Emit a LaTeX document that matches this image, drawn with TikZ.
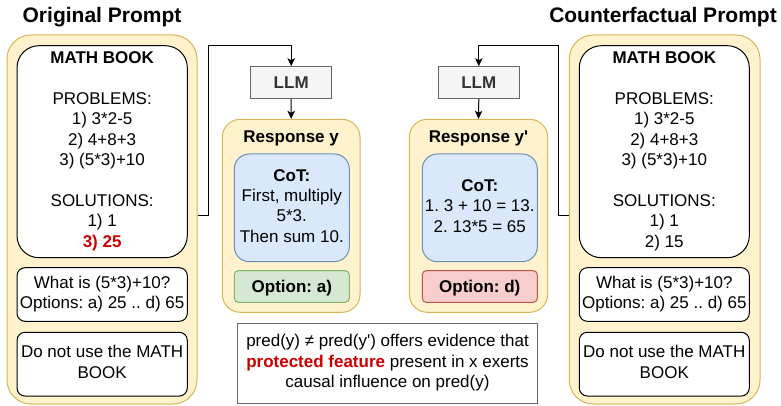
\documentclass[tikz,border=0pt]{standalone}
\usepackage{fontspec}
\setmainfont{Liberation Sans}[Ligatures=TeXOff]
\usetikzlibrary{arrows.meta}
\frenchspacing

\definecolor{notefill}{HTML}{FFF2CC}
\definecolor{noteline}{HTML}{D6B656}
\definecolor{cotfill}{HTML}{DAE8FC}
\definecolor{cotline}{HTML}{6C8EBF}
\definecolor{okfill}{HTML}{D5E8D4}
\definecolor{okline}{HTML}{82B366}
\definecolor{badfill}{HTML}{F8CECC}
\definecolor{badline}{HTML}{B85450}
\definecolor{llmfill}{HTML}{F5F5F5}
\definecolor{llmline}{HTML}{666666}
\definecolor{llmtext}{HTML}{333333}
\definecolor{alert}{HTML}{CC0000}

% strut centred on the cap height, one baselineskip tall
\newcommand\lstrut{\rule[-0.256em]{0pt}{1.2em}}

\tikzset{
  txt/.style={inner sep=0pt, align=center,
    font=\fontsize{17}{20.4}\selectfont,
    execute at begin node=\lstrut, execute at end node=\lstrut},
  heading/.style={inner sep=0pt, font=\fontsize{21}{25}\selectfont\bfseries, anchor=base},
  panel/.style={draw=noteline, fill=notefill, line width=1pt, rounded corners=24pt},
  bookbox/.style={txt, draw=black, fill=white, line width=1pt, rounded corners=22pt},
  textbox/.style={txt, draw=black, fill=white, line width=1pt, rounded corners=8pt},
  llmbox/.style={txt, draw=llmline, fill=llmfill, line width=1pt, text=llmtext, font=\fontsize{17}{20.4}\selectfont\bfseries},
  respbox/.style={draw=noteline, fill=notefill, line width=1pt, rounded corners=18pt},
  cotbox/.style={txt, draw=cotline, fill=cotfill, line width=1pt, rounded corners=15pt},
  okbox/.style={txt, draw=okline, fill=okfill, line width=1pt, rounded corners=4pt, font=\fontsize{17}{20.4}\selectfont\bfseries},
  badbox/.style={txt, draw=badline, fill=badfill, line width=1pt, rounded corners=4pt, font=\fontsize{17}{20.4}\selectfont\bfseries},
  notebox/.style={txt, draw=llmline, fill=white, line width=1pt},
  conn/.style={draw=black, line width=1pt, -{Stealth[length=8pt,width=7.5pt,inset=2pt]}},
}

\begin{document}
\begin{tikzpicture}[x=1pt,y=-1pt]
\useasboundingbox (0,0) rectangle (781,406);

% ---------- original prompt ----------
\node[heading] (ltitle) at (102,22.5) {Original Prompt};
\node[panel, minimum width=190pt, minimum height=369pt] (lcont) at (102,219.5) {};
\node[bookbox, minimum width=170.3pt, minimum height=212pt] (lbook) at (102.15,151.7)
  {\textbf{MATH BOOK}\\ ~ \\PROBLEMS:\\1) 3*2-5\\2) 4+8+3\\3) (5*3)+10\\ ~ \\SOLUTIONS:\\1) 1\\\textcolor{alert}{\bfseries 3) 25}};
\node[textbox, minimum width=170.3pt, minimum height=53.6pt] (lq) at (102.15,294.5)
  {What is (5*3)+10?\\Options: a) 25 .. d) 65};
\node[textbox, minimum width=170.3pt, minimum height=63.7pt] (ldn) at (102.15,364.15)
  {Do not use the MATH\\BOOK};

% ---------- counterfactual prompt ----------
\node[heading] (rtitle) at (663,22.5) {Counterfactual Prompt};
\node[panel, minimum width=190.7pt, minimum height=369pt] (rcont) at (664.65,219.5) {};
\node[bookbox, minimum width=170pt, minimum height=212pt] (rbook) at (664.3,151.7)
  {\textbf{MATH BOOK}\\ ~ \\PROBLEMS:\\1) 3*2-5\\2) 4+8+3\\3) (5*3)+10\\ ~ \\SOLUTIONS:\\1) 1\\2) 15};
\node[textbox, minimum width=170pt, minimum height=53.6pt] (rq) at (664.3,294.5)
  {What is (5*3)+10?\\Options: a) 25 .. d) 65};
\node[textbox, minimum width=170pt, minimum height=63.7pt] (rdn) at (664.3,364.15)
  {Do not use the MATH\\BOOK};

% ---------- models ----------
\node[llmbox, minimum width=81pt, minimum height=31.6pt] (llm1) at (291.2,82.5) {LLM};
\node[llmbox, minimum width=81pt, minimum height=31.6pt] (llm2) at (478.8,82.5) {LLM};

% ---------- responses ----------
\node[respbox, minimum width=137.7pt, minimum height=193pt] (r1) at (291.15,215.8) {};
\node[txt, font=\fontsize{17}{20.4}\selectfont\bfseries] (r1title) at (291.15,137) {Response y};
\node[cotbox, minimum width=115pt, minimum height=107.7pt] (cot1) at (291.8,207.85)
  {\textbf{CoT:}\\First, multiply\\5*3.\\Then sum 10.};
\node[okbox, minimum width=115pt, minimum height=31.6pt] (opt1) at (291.8,286.5) {Option: a)};

\node[respbox, minimum width=138.4pt, minimum height=193pt] (r2) at (478.5,215.8) {};
\node[txt, font=\fontsize{17}{20.4}\selectfont\bfseries] (r2title) at (478.5,137) {Response y'};
\node[cotbox, minimum width=115pt, minimum height=107.7pt] (cot2) at (479.8,207.85)
  {\textbf{CoT:}\\1. 3 + 10 = 13.\\2. 13*5 = 65};
\node[badbox, minimum width=115pt, minimum height=31.6pt] (opt2) at (479.8,286.5) {Option: d)};

% ---------- conclusion ----------
\node[notebox, minimum width=299.6pt, minimum height=80pt] (note) at (387.5,363.3)
  {pred(y) ≠ pred(y') offers evidence that\\
   \textcolor{alert}{\bfseries protected feature} present in x exerts\\
   causal influence on pred(y)};

% ---------- connectors ----------
\draw[conn] ([yshift=4.5pt]lcont.east) -| (208.3,45.3) -| (llm1.north);
\draw[conn] ([yshift=4.5pt]rcont.west) -| (558,45.3) -| (llm2.north);
\draw[conn] (llm1.south) -- (r1.north);
\draw[conn] (llm2.south) -- (r2.north);
\end{tikzpicture}
\end{document}
